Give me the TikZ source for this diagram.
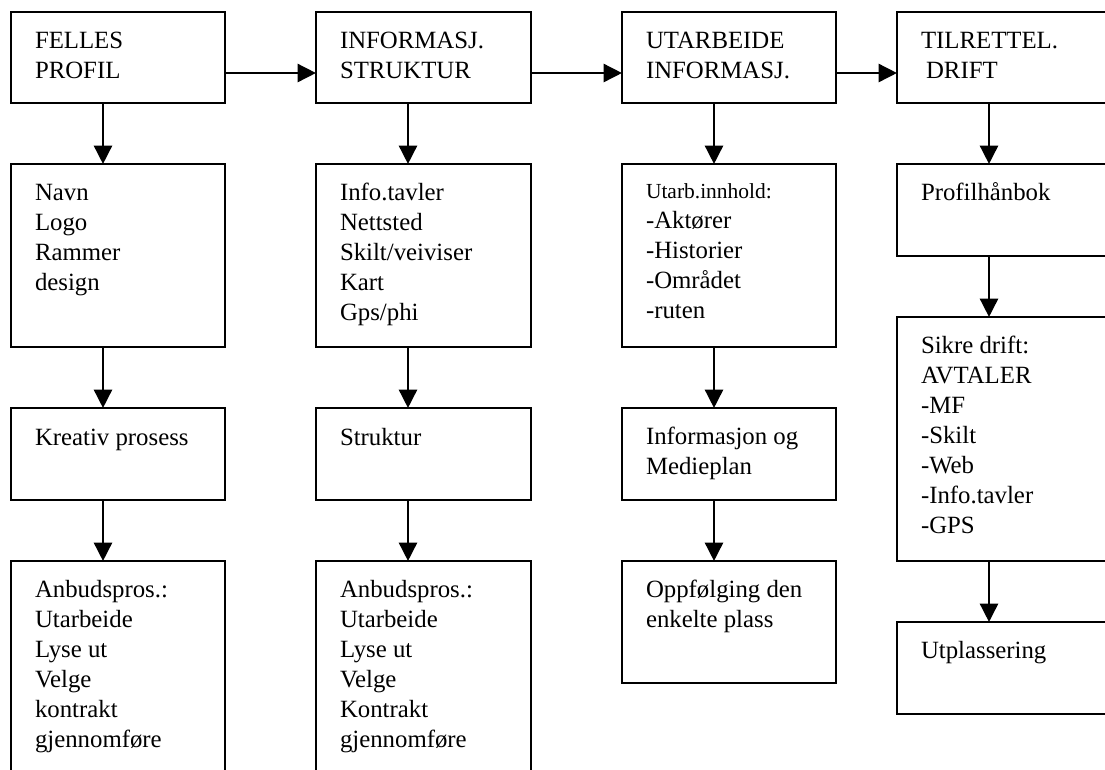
\documentclass[tikz,border=0pt]{standalone}
\usepackage{fontspec}
\setmainfont{Liberation Serif}
\usetikzlibrary{arrows.meta}
\newcommand\mlines[1]{\vtop{\baselineskip=22.5pt\lineskip=0pt\lineskiplimit=-100pt\halign{##\hfil\cr#1\crcr}}}
\tikzset{
  bx/.style 2 args={draw, line width=1.7pt, inner sep=0pt, outer sep=0pt, anchor=north west,
    minimum width=#1*0.75pt, minimum height=#2*0.75pt},
  txt/.style={anchor=base west, inner sep=0pt, outer sep=0pt, font=\fontsize{18.6}{22.5}\selectfont},
  arr/.style={line width=2pt, -{Triangle[length=13.8pt,width=13.5pt]}},
}
\begin{document}
\begin{tikzpicture}[x=0.75pt,y=-0.75pt]
\useasboundingbox (0,0) rectangle (1105,769);
\clip (0,0) rectangle (1105,769);
% column 1
\node[bx={214}{91}]  (c1r1) at (11,12) {};
\node[bx={214}{183}] (c1r2) at (11,164) {};
\node[bx={214}{92}]  (c1r3) at (11,408) {};
\node[bx={214}{260}] (c1r4) at (11,561) {};
% column 2
\node[bx={215}{91}]  (c2r1) at (316,12) {};
\node[bx={215}{183}] (c2r2) at (316,164) {};
\node[bx={215}{92}]  (c2r3) at (316,408) {};
\node[bx={215}{260}] (c2r4) at (316,561) {};
% column 3
\node[bx={214}{91}]  (c3r1) at (622,12) {};
\node[bx={214}{183}] (c3r2) at (622,164) {};
\node[bx={214}{92}]  (c3r3) at (622,408) {};
\node[bx={214}{122}] (c3r4) at (622,561) {};
% column 4
\node[bx={215}{91}]  (c4r1) at (897,12) {};
\node[bx={215}{92}]  (c4r2) at (897,164) {};
\node[bx={215}{244}] (c4r3) at (897,317) {};
\node[bx={215}{92}]  (c4r4) at (897,622) {};
% texts
\node[txt] (t11) at (35,48)  {\mlines{FELLES\cr PROFIL}};
\node[txt] (t12) at (35,200) {\mlines{Navn\cr Logo\cr Rammer\cr design}};
\node[txt] (t13) at (35,445) {\mlines{Kreativ prosess}};
\node[txt] (t14) at (35,597) {\mlines{Anbudspros.:\cr Utarbeide\cr Lyse ut\cr Velge\cr kontrakt\cr gjennomføre}};
\node[txt] (t21) at (340,48)  {\mlines{INFORMASJ.\cr STRUKTUR}};
\node[txt] (t22) at (340,200) {\mlines{Info.tavler\cr Nettsted\cr Skilt/veiviser\cr Kart\cr Gps/phi}};
\node[txt] (t23) at (340,445) {\mlines{Struktur}};
\node[txt] (t24) at (340,597) {\mlines{Anbudspros.:\cr Utarbeide\cr Lyse ut\cr Velge\cr Kontrakt\cr gjennomføre}};
\node[txt] (t31) at (646,48)  {\mlines{UTARBEIDE\cr INFORMASJ.}};
\node[txt] (t32) at (646,198) {\mlines{{\fontsize{16.1}{19}\selectfont Utarb.innhold:}\cr -Aktører\cr -Historier\cr -Området\cr -ruten}};
\node[txt] (t33) at (646,444) {\mlines{Informasjon og\cr Medieplan}};
\node[txt] (t34) at (646,597) {\mlines{Oppfølging den\cr enkelte plass}};
\node[txt] (t41) at (921,48)  {\mlines{TILRETTEL.\cr\hskip3.8pt DRIFT}};
\node[txt] (t42) at (921,200) {\mlines{Profilhånbok}};
\node[txt] (t43) at (921,353) {\mlines{Sikre drift:\cr AVTALER\cr -MF\cr -Skilt\cr -Web\cr -Info.tavler\cr -GPS}};
\node[txt] (t44) at (921,658) {\mlines{Utplassering}};
% horizontal arrows
\draw[arr] ([yshift=-45.75pt]c1r1.north east) -- ([yshift=-45.75pt]c2r1.north west);
\draw[arr] ([yshift=-45.75pt]c2r1.north east) -- ([yshift=-45.75pt]c3r1.north west);
\draw[arr] ([yshift=-45.75pt]c3r1.north east) -- ([yshift=-45.75pt]c4r1.north west);
% vertical arrows
\foreach \c in {1,2,3,4}{
  \draw[arr] ([xshift=69pt]c\c r1.south west) -- ([xshift=69pt]c\c r2.north west);
  \draw[arr] ([xshift=69pt]c\c r2.south west) -- ([xshift=69pt]c\c r3.north west);
  \draw[arr] ([xshift=69pt]c\c r3.south west) -- ([xshift=69pt]c\c r4.north west);
}
\end{tikzpicture}
\end{document}
